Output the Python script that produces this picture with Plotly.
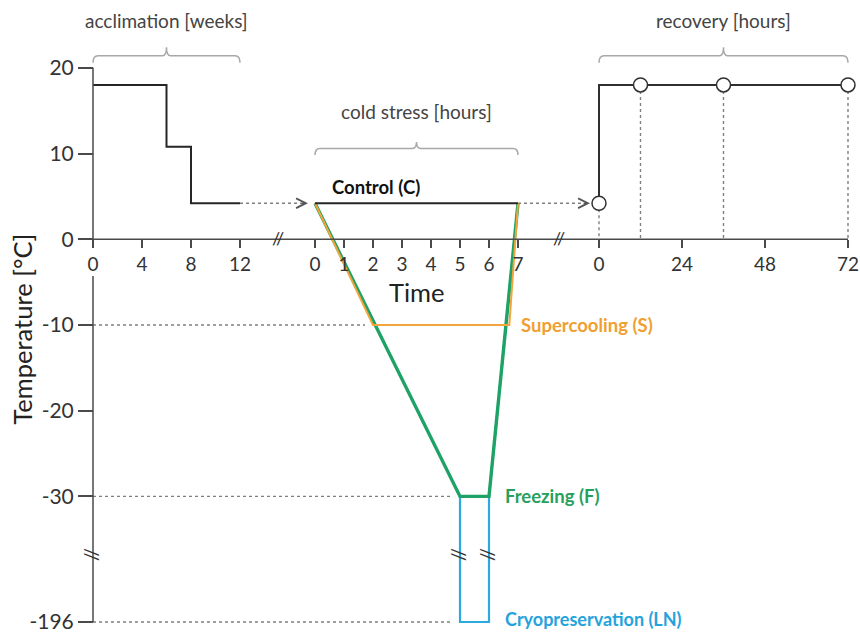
import plotly.graph_objects as go

# ---------------- data ----------------
acc_weeks = [0, 6, 8, 12]
acc_temp = [18, 10.8, 4.2, 4.2]

control_hours = [0, 7]
control_temp = [4.2, 4.2]

super_hours = [0, 2, 6.7, 7]
super_temp = [4.2, -10, -10, 4.2]

freeze_hours = [0, 5, 6, 7]
freeze_temp = [4.2, -30, -30, 4.2]

ln_hours = [0, 5, 5, 6, 6, 7]
ln_temp = [4.2, -30, -196, -196, -30, 4.2]

rec_line_hours = [0, 0, 72]
rec_line_temp = [4.2, 18, 18]
rec_sample_hours = [0, 12, 36, 72]
rec_sample_temp = [4.2, 18, 18, 18]

acc_ticks = [0, 4, 8, 12]
cold_ticks = [0, 1, 2, 3, 4, 5, 6, 7]
rec_ticks = [0, 24, 48, 72]
temp_ticks = [20, 10, 0, -10, -20, -30, -196]

# ---------------- broken-axis mapping ----------------
ACC_SCALE = 12.25
COLD_OFF, COLD_SCALE = 222.0, 29.0
REC_OFF, REC_SCALE = 506.0, 249.0 / 72.0
BREAK_T, LN_T, LN_DISP = -30.0, -196.0, -44.65
X_RANGE = [-93.0, 767.0]
Y_RANGE = [-45.698, 27.907]


def xa(w):
    return w * ACC_SCALE


def xc(h):
    return COLD_OFF + h * COLD_SCALE


def xr(h):
    return REC_OFF + h * REC_SCALE


def yd(t):
    if t >= BREAK_T:
        return t
    return BREAK_T + (t - BREAK_T) * (LN_DISP - BREAK_T) / (LN_T - BREAK_T)


def ys(lst):
    return [yd(t) for t in lst]


FONT = "Lato"
AX = "#4a4a4a"
DOT = "#808080"
BRK = "#a8a8a8"
ORANGE = "#F2A53C"
GREEN = "#1FA266"
CYAN = "#2DA9E1"
BLACK = "#262626"

fig = go.Figure()

# reference dotted lines
ref_x, ref_y = [], []
for t, hx in [(-10, super_hours[1]), (-30, freeze_hours[1]), (-196, ln_hours[2])]:
    ref_x += [xa(0), xc(hx) - 8, None]
    ref_y += [yd(t), yd(t), None]
fig.add_trace(go.Scatter(x=ref_x, y=ref_y, mode="lines",
                         line=dict(color=DOT, width=1.4, dash="dot"), hoverinfo="skip"))

# dotted transfer lines
fig.add_trace(go.Scatter(x=[xa(acc_weeks[-1]), xc(0) - 9, None, xc(7), xr(0) - 11],
                         y=[acc_temp[-1], acc_temp[-1], None, control_temp[-1], control_temp[-1]],
                         mode="lines", line=dict(color=DOT, width=1.4, dash="dot"), hoverinfo="skip"))

# dotted drop lines in recovery
drop_x, drop_y = [], []
for h, t in zip(rec_sample_hours, rec_sample_temp):
    drop_x += [xr(h), xr(h), None]
    drop_y += [t, 0, None]
fig.add_trace(go.Scatter(x=drop_x, y=drop_y, mode="lines",
                         line=dict(color=DOT, width=1.4, dash="dot"), hoverinfo="skip"))

# acclimation
fig.add_trace(go.Scatter(x=[xa(w) for w in acc_weeks], y=acc_temp, mode="lines",
                         line=dict(color=BLACK, width=2, shape="hv"), hoverinfo="skip"))

# cold stress treatments
fig.add_trace(go.Scatter(x=[xc(h) for h in ln_hours], y=ys(ln_temp), mode="lines",
                         line=dict(color=CYAN, width=2.2), hoverinfo="skip"))
fig.add_trace(go.Scatter(x=[xc(h) for h in freeze_hours], y=ys(freeze_temp), mode="lines",
                         line=dict(color=GREEN, width=3.4), hoverinfo="skip"))
fig.add_trace(go.Scatter(x=[xc(h) for h in super_hours], y=ys(super_temp), mode="lines",
                         line=dict(color=ORANGE, width=2), hoverinfo="skip"))
fig.add_trace(go.Scatter(x=[xc(h) for h in control_hours], y=control_temp, mode="lines",
                         line=dict(color=BLACK, width=2.2), hoverinfo="skip"))

# recovery
fig.add_trace(go.Scatter(x=[xr(h) for h in rec_line_hours], y=rec_line_temp, mode="lines",
                         line=dict(color="#303030", width=2), hoverinfo="skip"))
fig.add_trace(go.Scatter(x=[xr(h) for h in rec_sample_hours], y=rec_sample_temp, mode="markers",
                         marker=dict(symbol="circle", size=14, color="white",
                                     line=dict(color="#303030", width=1.5)),
                         cliponaxis=False, hoverinfo="skip"))

# ---------------- axis lines & brackets ----------------
shapes = [
    dict(type="line", xref="x", yref="y", x0=xa(0), x1=xr(rec_ticks[-1]), y0=0, y1=0,
         line=dict(color=AX, width=1.5)),
    dict(type="line", xref="x", yref="y", x0=xa(0), x1=xa(0), y0=temp_ticks[0], y1=0,
         line=dict(color=AX, width=1.5)),
    dict(type="line", xref="x", yref="y", x0=xa(0), x1=xa(0), y0=-4.3, y1=yd(temp_ticks[-1]),
         line=dict(color=AX, width=1.5)),
]


def bracket(x0, x1, ytop, depth=0.8, tip=0.9):
    xm = (x0 + x1) / 2
    return (f"M {x0},{ytop - depth} Q {x0},{ytop} {x0 + 5},{ytop} "
            f"L {xm - 4},{ytop} Q {xm},{ytop} {xm},{ytop + tip} "
            f"Q {xm},{ytop} {xm + 4},{ytop} L {x1 - 5},{ytop} "
            f"Q {x1},{ytop} {x1},{ytop - depth}")


for x0, x1, yt, dp, tp in [(xa(acc_ticks[0]), xa(acc_ticks[-1]), 21.4, 0.8, 1.0),
                           (xc(cold_ticks[0]), xc(cold_ticks[-1]), 10.58, 0.75, 0.75),
                           (xr(rec_ticks[0]), xr(rec_ticks[-1]), 21.4, 0.8, 1.0)]:
    shapes.append(dict(type="path", xref="x", yref="y", path=bracket(x0, x1, yt, dp, tp),
                       line=dict(color=BRK, width=1.5)))

# ---------------- annotations ----------------
ann = []


def txt(x, y, s, size=16, color="#444", xanchor="center", bold=False, angle=0, xshift=0, yshift=0):
    ann.append(dict(x=x, y=y, xref="x", yref="y", text=f"<b>{s}</b>" if bold else s,
                    showarrow=False, xanchor=xanchor, yanchor="middle", textangle=angle,
                    xshift=xshift, yshift=yshift, font=dict(family=FONT, size=size, color=color)))


txt(xa(6), 25.5, "acclimation [weeks]", size=19)
txt(xc(3.5), 14.9, "cold stress [hours]", size=19)
txt(xr(36), 25.5, "recovery [hours]", size=19)
txt(xc(0.5), 6.1, "Control (C)", size=18.5, color="#111", xanchor="left", bold=True)
txt(xc(7), -10, "Supercooling (S)", size=18.5, color="#EFA02F", xanchor="left", bold=True, xshift=1)
txt(xc(6), -30, "Freezing (F)", size=18.5, color="#27A05E", xanchor="left", bold=True, xshift=14)
txt(xc(6), yd(-196), "Cryopreservation (LN)", size=18, color="#25A3DC", xanchor="left", bold=True,
    xshift=14, yshift=3)
txt(xc(3.5), -6.1, "Time", size=25.5, color="#222")
ann.append(dict(x=0.026, y=-10.5, xref="paper", yref="y", text="Temperature [°C]", showarrow=False,
                xanchor="center", yanchor="middle",
                textangle=-90, font=dict(family=FONT, size=25.5, color="#222")))

# axis break marks
txt((xa(12) + xc(0)) / 2, 0.2, "//", size=18, color="#333")
txt((xc(7) + xr(0)) / 2, 0.2, "//", size=18, color="#333")
txt(xa(0), (yd(-30) + yd(-196)) / 2 + 0.6, "//", size=19, color="#333", angle=90)
txt(xc(5), (yd(-30) + yd(-196)) / 2 + 0.6, "//", size=19, color="#333", angle=90)
txt(xc(6), (yd(-30) + yd(-196)) / 2 + 0.6, "//", size=19, color="#333", angle=90)

# arrowheads of the transfer lines
for xt, yt in [(xc(0) - 7, acc_temp[-1]), (xr(0) - 9, control_temp[-1])]:
    ann.append(dict(x=xt, y=yt, xref="x", yref="y", ax=-8, ay=0, text="", showarrow=True,
                    arrowhead=5, arrowsize=1.6, arrowwidth=1.2, arrowcolor="#555"))

xtickvals = [xa(v) for v in acc_ticks] + [xc(v) for v in cold_ticks] + [xr(v) for v in rec_ticks]
xticktext = [str(v) for v in acc_ticks + cold_ticks + rec_ticks]

fig.update_layout(
    width=860, height=633,
    margin=dict(l=0, r=0, t=0, b=0, pad=0),
    paper_bgcolor="white", plot_bgcolor="white",
    showlegend=False,
    shapes=shapes, annotations=ann,
    font=dict(family=FONT, color="#333"),
    xaxis=dict(range=X_RANGE, showgrid=False, zeroline=False, showline=False,
               anchor="free", position=(0 - Y_RANGE[0]) / (Y_RANGE[1] - Y_RANGE[0]),
               tickmode="array", tickvals=xtickvals, ticktext=xticktext,
               ticks="outside", ticklen=8, tickwidth=1.5, tickcolor=AX,
               ticklabeloverflow="allow",
               tickfont=dict(family=FONT, size=19, color="#333")),
    yaxis=dict(range=Y_RANGE, showgrid=False, zeroline=False, showline=False,
               anchor="free", position=(0 - X_RANGE[0]) / (X_RANGE[1] - X_RANGE[0]),
               tickmode="array", tickvals=[yd(t) for t in temp_ticks],
               ticktext=[str(t) for t in temp_ticks],
               ticks="outside", ticklen=15, tickwidth=1.5, tickcolor=AX,
               ticklabeloverflow="allow",
               tickfont=dict(family=FONT, size=21, color="#333")),
)

fig.write_html("out.html")
